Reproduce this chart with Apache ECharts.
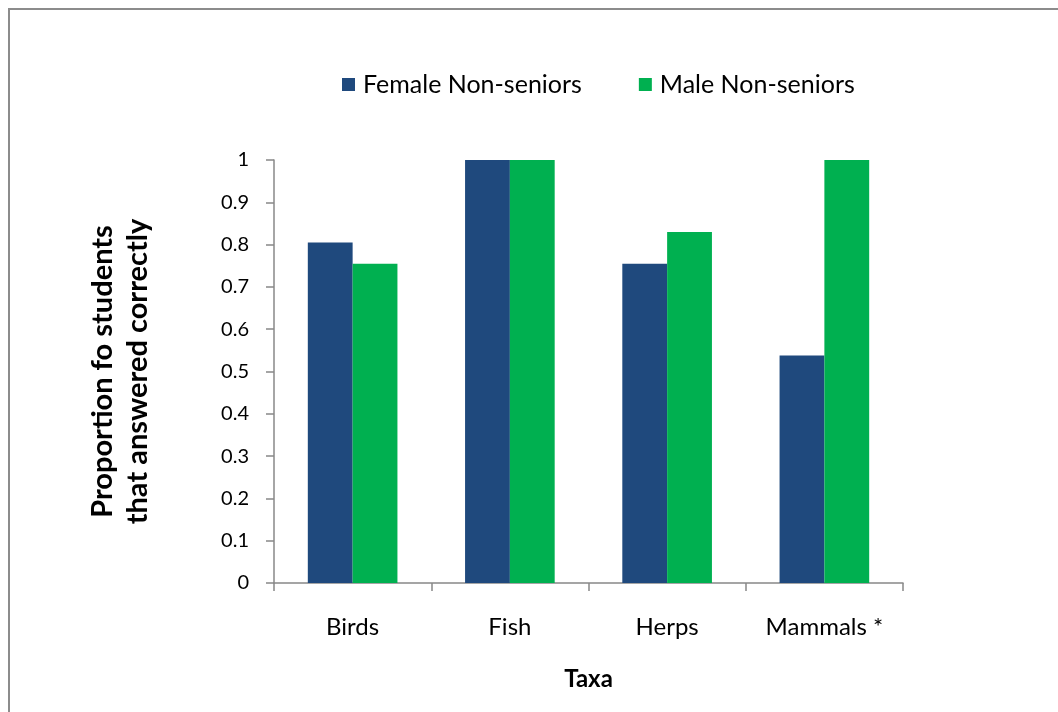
<!DOCTYPE html>
<html>
<head>
<meta charset="utf-8">
<script src="https://cdn.jsdelivr.net/npm/echarts@6/dist/echarts.min.js"></script>
<style>
  html, body { margin: 0; padding: 0; background: #fff; }
  #chart { width: 1058px; height: 712px; }
</style>
</head>
<body>
<div id="chart"></div>
<script>
// Taxa and proportions of correct answers per group
const categories = ['Birds', 'Fish', 'Herps', 'Mammals *'];
const femaleNonSeniors = [0.805, 1.0, 0.755, 0.538];
const maleNonSeniors = [0.755, 1.0, 0.83, 1.0];
const seriesNames = ['Female Non-seniors', 'Male Non-seniors'];

const FONT = 'Lato';
const chart = echarts.init(document.getElementById('chart'));

chart.setOption({
  backgroundColor: '#fff',
  animation: false,
  graphic: [{
    type: 'rect',
    shape: { x: 9, y: 9, width: 1200, height: 900 },
    style: { fill: 'none', stroke: '#8c8c8c', lineWidth: 2 },
    silent: true
  }],
  legend: {
    data: seriesNames,
    top: 67,
    left: 337,
    itemWidth: 13,
    itemHeight: 13,
    itemGap: 57,
    icon: 'rect',
    textStyle: { fontFamily: FONT, fontSize: 25, color: '#000', padding: [0, 0, 0, 3] }
  },
  grid: { left: 274, top: 160, right: 155, bottom: 129, containLabel: false },
  xAxis: {
    type: 'category',
    data: categories,
    name: 'Taxa',
    nameLocation: 'middle',
    nameGap: 84,
    nameTextStyle: { fontFamily: FONT, fontSize: 24, fontWeight: 'bold', color: '#000' },
    axisLine: { lineStyle: { color: '#888', width: 1.5 } },
    axisTick: { show: true, alignWithLabel: false, length: 8, lineStyle: { color: '#888', width: 1.5 } },
    axisLabel: { fontFamily: FONT, fontSize: 24, color: '#000', margin: 32 }
  },
  yAxis: {
    type: 'value',
    min: 0,
    max: 1,
    interval: 0.1,
    name: 'Proportion fo students\nthat answered correctly',
    nameLocation: 'middle',
    nameGap: 119,
    nameRotate: 90,
    nameTextStyle: { fontFamily: FONT, fontSize: 29, fontWeight: 'bold', color: '#000', lineHeight: 35 },
    axisLine: { show: true, lineStyle: { color: '#888', width: 1.5 } },
    axisTick: { show: true, length: 8, lineStyle: { color: '#888', width: 1.5 } },
    splitLine: { show: false },
    axisLabel: {
      fontFamily: FONT, fontSize: 20, color: '#000', margin: 25,
      formatter: v => String(Math.round(v * 10) / 10)
    }
  },
  series: [
    {
      name: seriesNames[0],
      type: 'bar',
      data: femaleNonSeniors,
      itemStyle: { color: '#1F497D' },
      barGap: '0%',
      barCategoryGap: '43%'
    },
    {
      name: seriesNames[1],
      type: 'bar',
      data: maleNonSeniors,
      itemStyle: { color: '#00B050' },
      barGap: '0%',
      barCategoryGap: '43%'
    }
  ]
});
</script>
</body>
</html>
